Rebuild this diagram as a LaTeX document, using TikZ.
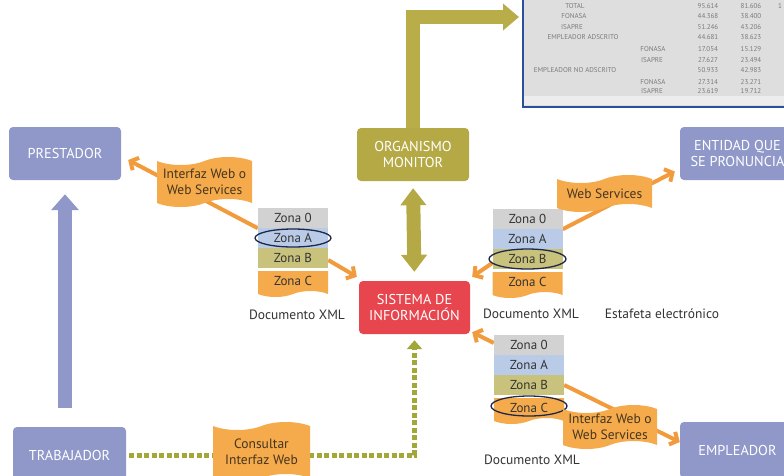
\documentclass[tikz,border=0pt]{standalone}
\usepackage{fontspec}
\setmainfont{PT Sans}
\usetikzlibrary{arrows.meta,shapes.symbols,shapes.geometric,calc}
\pgfdeclarelayer{bg}
\pgfsetlayers{bg,main}
\definecolor{lav}{HTML}{8F98C9}
\definecolor{olive}{HTML}{B5A945}
\definecolor{oarr}{HTML}{B8AD48}
\definecolor{sisred}{HTML}{E8464F}
\definecolor{bannerc}{HTML}{F5AA4B}
\definecolor{arrc}{HTML}{F29B3C}
\definecolor{zgray}{HTML}{D2D2D2}
\definecolor{zblue}{HTML}{B9CBE7}
\definecolor{zolive}{HTML}{C9C27C}
\definecolor{zorange}{HTML}{F5AA4B}
\definecolor{dotc}{HTML}{A3A638}
\definecolor{navy}{HTML}{1E2848}
\definecolor{tblue}{HTML}{2C4F9C}
\definecolor{tgray}{HTML}{DEDEDE}
\definecolor{tlight}{HTML}{EDEDED}
\definecolor{ttext}{HTML}{7A7A7A}
\definecolor{darktxt}{HTML}{333333}
\definecolor{bantxt}{HTML}{45351F}
\begin{document}
\begin{tikzpicture}[x=1pt,y=-1pt,
  lbl/.style={font=\fontsize{13.5}{15.5}\selectfont},
  bigbox/.style={font=\fontsize{14.3}{16.5}\selectfont, rectangle, rounded corners=4pt, minimum width=112pt, minimum height=53pt, text=white, align=center, inner sep=0pt},
  zone/.style={font=\fontsize{13}{15}\selectfont, rectangle, minimum width=70pt, minimum height=20pt, inner sep=0pt, text=darktxt},
  zonec/.style={font=\fontsize{13}{15}\selectfont, tape, tape bend top=none, tape bend bottom=in and out, tape bend height=6pt, minimum width=70pt, minimum height=26pt, inner sep=0pt, fill=zorange, text=darktxt},
  banner/.style={lbl, tape, tape bend height=8pt, fill=bannerc, text=bantxt, align=center, inner sep=0pt},
  ring/.style={ellipse, draw=navy, line width=1.3pt, inner sep=0pt},
  oarrow/.style={draw=arrc, line width=4pt, -{Straight Barb[length=6pt,width=14pt]}},
  doclbl/.style={lbl, text=darktxt},
  tt/.style={font=\fontsize{7}{8}\selectfont, text=ttext, inner sep=0pt}
]
\useasboundingbox (0,0) rectangle (784,475);
\clip (0,0) rectangle (784,475);

% table screenshot
\node[draw=tblue, line width=1.5pt, fill=tgray, minimum width=277pt, minimum height=112pt, inner sep=0pt] (tbl) at (661.5,51) {};
\fill[tlight] (524,96) rectangle (800,105);
\node[tt] (t1) at (575,6) {TOTAL};
\node[tt] (t2) at (574,16) {FONASA};
\node[tt] (t3) at (572,27) {ISAPRE};
\node[tt] (t4) at (583,37) {EMPLEADOR ADSCRITO};
\node[tt] (t5) at (653,49) {FONASA};
\node[tt] (t6) at (652,60) {ISAPRE};
\node[tt] (t7) at (575,70) {EMPLEADOR NO ADSCRITO};
\node[tt] (t8) at (653,82) {FONASA};
\node[tt] (t9) at (652,91) {ISAPRE};
\foreach \y/\a/\b [count=\i] in {6/95.614/81.606,16/44.368/38.400,27/51.246/43.206,37/44.681/38.623,49/17.054/15.129,60/27.627/23.494,70/50.933/42.983,82/27.314/23.271,91/23.619/19.712}{
  \node[tt] (na\i) at (708,\y) {\a};
  \node[tt] (nb\i) at (751,\y) {\b};
}
\node[tt] (nc1) at (780,6) {1};

% main boxes
\node[bigbox, fill=lav] (prest) at (65,153.5) {PRESTADOR};
\node[bigbox, fill=olive] (org) at (413,154.5) {ORGANISMO\\MONITOR};
\node[bigbox, fill=sisred, minimum width=111pt] (sis) at (414.5,307.5) {SISTEMA DE\\INFORMACIÓN};
\node[bigbox, fill=lav, minimum width=115pt] (ent) at (737.5,153.5) {ENTIDAD QUE\\SE PRONUNCIA};
\node[bigbox, fill=lav, minimum width=113pt, minimum height=56pt] (trab) at (69.5,455) {TRABAJADOR};
\node[bigbox, fill=lav, minimum width=115pt, minimum height=56pt] (emp) at (737.5,450) {EMPLEADOR};
\coordinate (tarr) at (519,17);

% documents
\node[zonec] (LC) at (293,281) {Zona C};
\node[zone, fill=zgray] (L0) at (293,218) {Zona 0};
\node[zone, fill=zblue] (LA) at (293,238) {Zona A};
\node[zone, fill=zolive] (LB) at (293,258) {Zona B};
\node[ring, minimum width=76pt, minimum height=18pt] (eL) at (LA) {};

\node[zonec] (MC) at (527.5,282) {Zona C};
\node[zone, fill=zgray] (M0) at (527.5,219) {Zona 0};
\node[zone, fill=zblue] (MA) at (527.5,239) {Zona A};
\node[zone, fill=zolive] (MB) at (527.5,259) {Zona B};
\node[ring, minimum width=77pt, minimum height=20pt] (eM) at (MB) {};

\node[zonec] (BC) at (529,408) {Zona C};
\node[zone, fill=zgray] (B0) at (529,345) {Zona 0};
\node[zone, fill=zblue] (BA) at (529,365) {Zona A};
\node[zone, fill=zolive] (BB) at (529,385) {Zona B};
\node[ring, minimum width=76pt, minimum height=20pt] (eB) at (529,406) {};

\node[doclbl] (dl1) at (297,315) {Documento XML};
\node[doclbl] (dl2) at (531,314) {Documento XML};
\node[doclbl] (dl3) at (532,460) {Documento XML};
\node[doclbl] (est) at (662,314) {Estafeta electrónico};

% banners
\node[banner, minimum width=95pt, minimum height=50pt] (bn1) at (204.5,182) {Interfaz Web o\\Web Services};
\node[banner, minimum width=95pt, minimum height=37pt] (bn2) at (604.5,193.5) {Web Services};
\node[banner, minimum width=94pt, minimum height=44pt] (bn3) at (610,427) {Interfaz Web o\\Web Services};
\node[banner, minimum width=97pt, minimum height=60pt] (bn4) at (261.5,452) {Consultar\\Interfaz Web};

\begin{pgfonlayer}{bg}
  % olive L arrow to table
  \draw[oarr, line width=14pt, -{Triangle[length=16pt,width=26pt]}] (org.north) |- (tarr);
  % double arrow
  \draw[olive, line width=14pt, {Triangle[length=17pt,width=25pt]}-{Triangle[length=17pt,width=25pt]}, shorten <=7pt, shorten >=9pt] (org.south) -- (sis.north);
  % lavender arrow
  \draw[lav, line width=14pt, -{Triangle[length=16pt,width=27pt]}, shorten <=19pt, shorten >=14pt] (prest.south |- trab.north) -- (prest.south);
  % dotted line
  \draw[dotc, line width=5pt, dash pattern=on 5pt off 2.5pt, -{Triangle[length=9pt,width=15pt]}, shorten <=3pt, shorten >=6pt] (trab.east) -| (sis.south);
  % orange arrows
  \draw[oarrow] (L0.south west) -- ([xshift=7pt,yshift=-6.5pt]prest.east);
  \draw[oarrow] ([yshift=-2pt]LB.east) -- ([xshift=-2pt,yshift=4pt]sis.north west);
  \draw[oarrow] ([yshift=-4pt]MB.west) -- ([xshift=2pt,yshift=4pt]sis.north east);
  \draw[oarrow] (M0.south east) -- ([xshift=-5pt,yshift=-18pt]ent.west);
  \draw[oarrow] ([yshift=2pt]B0.west) -- ([xshift=2pt,yshift=2pt]sis.south east);
  \draw[oarrow] (BB.east) -- ([yshift=8pt]emp.west);
\end{pgfonlayer}
\end{tikzpicture}
\end{document}
